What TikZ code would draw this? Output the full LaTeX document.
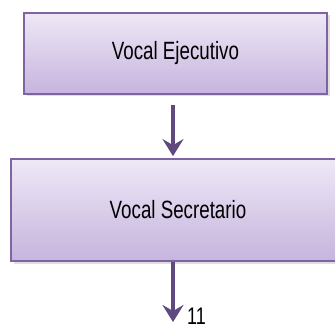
\documentclass[tikz,border=0pt]{standalone}
\usepackage{fontspec}
\setmainfont{Liberation Sans}[FakeStretch=0.75]
\usetikzlibrary{arrows.meta, shadows}

\begin{document}
\begin{tikzpicture}[x=1pt, y=1pt]
    % Define colours
    \definecolor{borderColour}{HTML}{8064A2}
    \definecolor{topColour}{HTML}{EEE8F6}
    \definecolor{bottomColour}{HTML}{C6B4DE}
    \definecolor{arrowColour}{HTML}{5F4A80}

    \tikzset{
        roleBox/.style={draw=borderColour, line width=1.8pt,
            top color=topColour, bottom color=bottomColour,
            drop shadow={opacity=0.25, shadow xshift=2.5pt, shadow yshift=-2.5pt},
            font=\fontsize{25}{28}\selectfont, text=black},
        flowArrow/.style={draw=arrowColour, line width=4.5pt,
            -{Stealth[length=17pt, width=21pt, inset=6pt]}}
    }

    % Fix the page size
    \useasboundingbox (0,0) rectangle (335,-329);

    % Draw the boxes
    \node[roleBox, minimum width=303pt, minimum height=81pt] (ejecutivo) at (175.5,-53.5) {Vocal Ejecutivo};
    \node[roleBox, minimum width=334pt, minimum height=102pt] (secretario) at (178,-210) {Vocal Secretario};

    % Draw the arrows
    \coordinate (next) at (173,-322);
    \draw[flowArrow] ([xshift=-2.5pt, yshift=-10pt]ejecutivo.south) -- ([xshift=-5pt, yshift=2pt]secretario.north);
    \draw[flowArrow] ([xshift=-5pt]secretario.south) -- (next);

    % Label the outgoing arrow
    \node[anchor=base west, inner sep=0pt, font=\fontsize{24}{26}\selectfont] (page) at (187,-324) {11};

\end{tikzpicture}
\end{document}
